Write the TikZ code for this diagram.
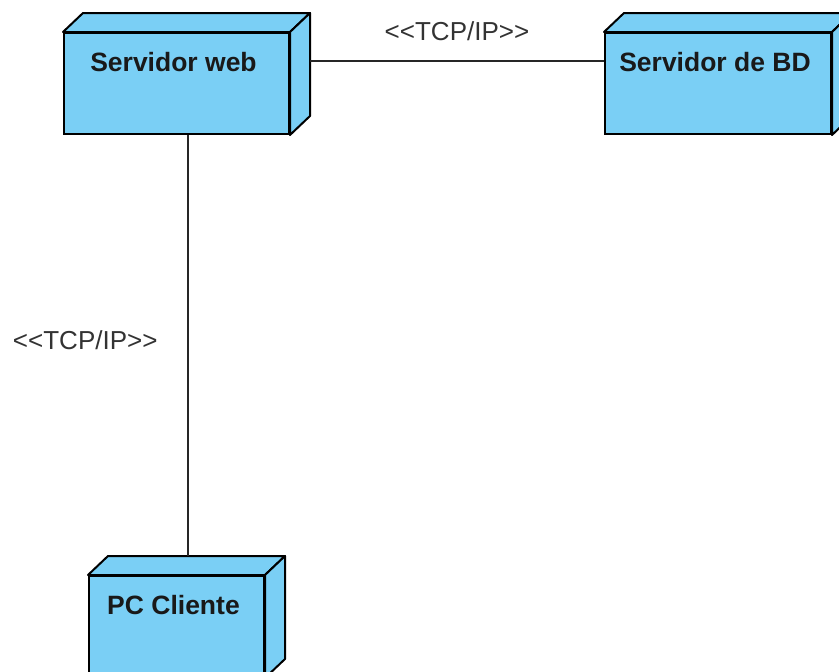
\documentclass[tikz,border=0pt]{standalone}
\usepackage{fontspec}
\setmainfont{Liberation Sans}
\definecolor{nodeblue}{RGB}{122,207,245}
\tikzstyle{devbox}=[draw=black, fill=nodeblue, line width=2pt, anchor=north west, minimum height=101pt, inner sep=0pt]
\tikzstyle{devface}=[draw=black, fill=nodeblue, line width=2pt, line join=round]
\tikzstyle{devtext}=[font=\fontsize{26.5}{30}\selectfont\bfseries, text=black!90, inner sep=0pt]
\tikzstyle{link}=[draw, line width=2pt, black!85]
\tikzstyle{stereo}=[font=\fontsize{26}{30}\selectfont, text=black!80, inner sep=0pt]

\begin{document}
\begin{tikzpicture}[x=1pt, y=-1pt]

    \useasboundingbox (0,0) rectangle (839,672);

    \def\dx{20};
    \def\dy{-19};

    % front faces, then top and side faces of each box
    \foreach \x/\y/\w/\name/\txt in {63/32/225/web/Servidor web, 604/32/226/bd/Servidor de BD, 88/575/175/pc/PC Cliente}
    {
        \node[devbox, minimum width=\w pt] (\name) at (\x,\y) {};
        \path[devface] (\name.north west) -- ++(\dx,\dy) -- ([shift={(\dx,\dy)}]\name.north east) -- (\name.north east) -- cycle;
        \path[devface] (\name.north east) -- ([shift={(\dx,\dy)}]\name.north east) -- ([shift={(\dx,\dy)}]\name.south east) -- (\name.south east) -- cycle;
        \node[devtext] (\name txt) at ([shift={(-3,30)}]\name.north) {\txt};
    }

    % links between the boxes
    \path[link] ([shift={(\dx,29)}]web.north east) -- node[stereo, midway, yshift=30pt] (tcpa) {{<}{<}TCP/IP{>}{>}} ([shift={(0,29)}]bd.north west);
    \path[link] ([xshift=11pt]web.south) -- node[stereo, midway, left=29pt, yshift=5pt] (tcpb) {{<}{<}TCP/IP{>}{>}} ([shift={(11,\dy)}]pc.north);

\end{tikzpicture}
\end{document}
